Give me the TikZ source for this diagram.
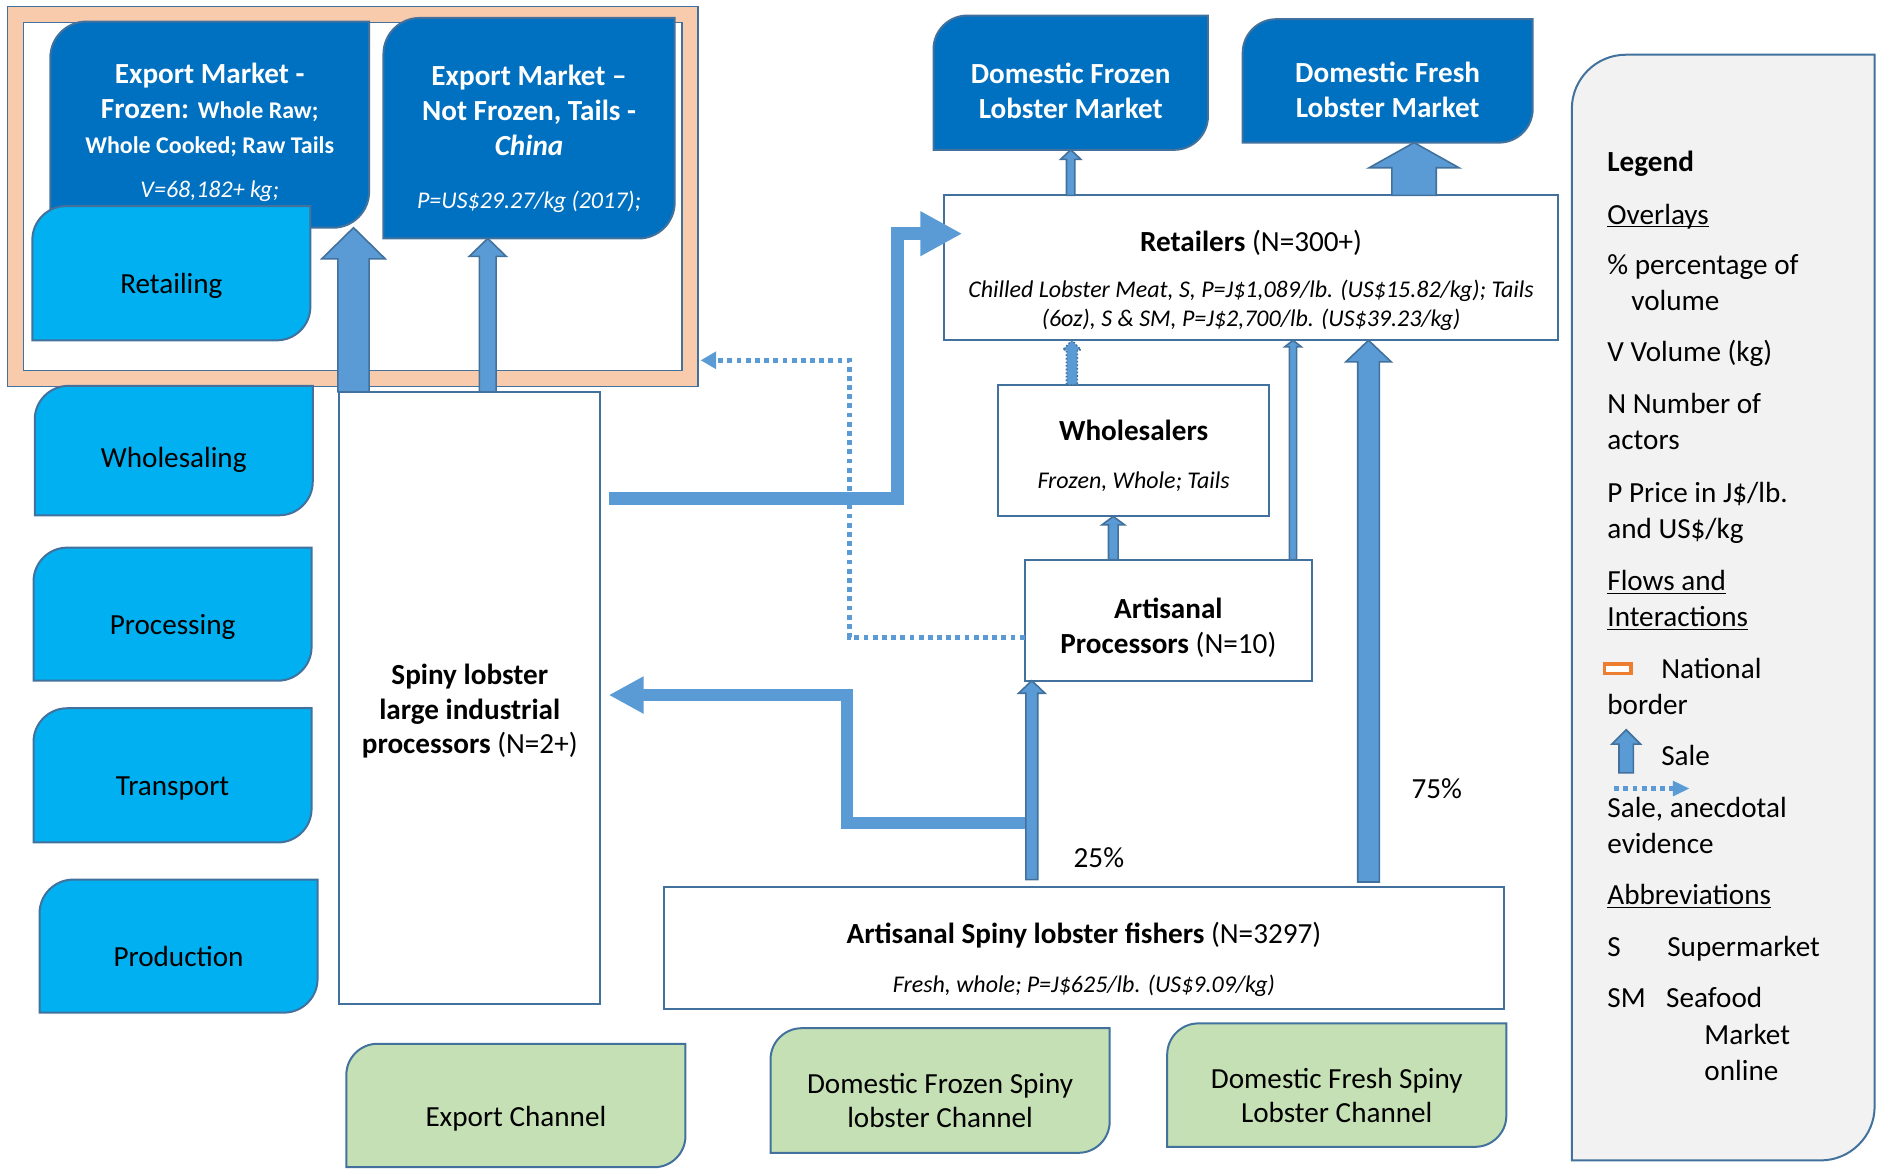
\documentclass[tikz,border=0pt]{standalone}
\usepackage{fontspec}
\setmainfont{Carlito}
\usepackage{xcolor}
\usepackage{tikz}
\usetikzlibrary{arrows.meta, calc, backgrounds}

\definecolor{marketblue}{HTML}{0070C0}
\definecolor{stageblue}{HTML}{00B0F0}
\definecolor{channelgreen}{HTML}{C5E0B4}
\definecolor{edgeblue}{HTML}{41719C}
\definecolor{flowblue}{HTML}{5B9BD5}
\definecolor{peach}{HTML}{F8CBAD}
\definecolor{legendgray}{HTML}{F2F2F2}
\definecolor{borderorange}{HTML}{ED7D31}

\newcommand{\basesz}{\fontsize{14.6}{17.5}\selectfont}
\newcommand{\smallsz}{\fontsize{12}{14.4}\selectfont}
\newcommand{\ulegend}[1]{\underline{\smash{#1}}}
\newcommand{\lift}[1][20pt]{\rule{0pt}{#1}}

% box with round top-left and bottom-right corners, drawn round a node
\newcommand{\diagshape}[3]{%
  \path[#1] ($(#2.north west)+(0,#3)$)
    .. controls ($(#2.north west)+(0,0.45*#3)$) and ($(#2.north west)+(0.45*#3,0)$) .. ($(#2.north west)+(#3,0)$)
    -- (#2.north east) -- ($(#2.south east)+(0,-#3)$)
    .. controls ($(#2.south east)+(0,-0.45*#3)$) and ($(#2.south east)+(-0.45*#3,0)$) .. ($(#2.south east)+(-#3,0)$)
    -- (#2.south west) -- cycle;}

% upward block arrow: from, to, half shaft, half head, head length
\newcommand{\blockup}[6][]{%
  \draw[blockarrow,#1] ($(#2)+(-#4,0)$) -- ($(#3)+(-#4,#6)$) -- ($(#3)+(-#5,#6)$) -- (#3)
    -- ($(#3)+(#5,#6)$) -- ($(#3)+(#4,#6)$) -- ($(#2)+(#4,0)$) -- cycle;}

\tikzset{
    base/.style={align=center, inner sep=0pt, outer sep=0pt, font=\basesz, text depth=0pt},
    market/.style={base, text=white},
    stage/.style={base, minimum width=139.2pt},
    channel/.style={base, minimum width=169.8pt},
    actor/.style={base, draw=edgeblue, line width=1pt, fill=white},
    natborder/.style={draw=edgeblue, line width=0.8pt, double=peach, double distance=7.2pt, inner sep=0pt, minimum width=337.8pt, minimum height=182.4pt},
    marketfill/.style={fill=marketblue, draw=edgeblue, line width=1pt},
    stagefill/.style={fill=stageblue, draw=edgeblue, line width=1pt},
    channelfill/.style={fill=channelgreen, draw=edgeblue, line width=1pt},
    legendfill/.style={fill=legendgray, draw=edgeblue, line width=1pt},
    blockarrow/.style={fill=flowblue, draw=edgeblue, line width=0.8pt, line join=miter},
    flowline/.style={draw=flowblue, line width=6.6pt, line join=miter},
    anecdote/.style={draw=flowblue, line width=2.2pt, dash pattern=on 2.4pt off 2.2pt, -{Triangle[width=8.4pt, length=7.8pt]}},
    legtext/.style={anchor=base west, inner sep=0pt, font=\basesz}
}

\begin{document}
\begin{tikzpicture}[x=0.6pt, y=-0.6pt]
    \useasboundingbox (0,0) rectangle (1568,975);

    % Markets
    \node (exp1) [market, minimum width=159.6pt, minimum height=103.2pt] at (175,104) {\lift[16pt]\textbf{Export Market -}\\ \textbf{Frozen: {\smallsz Whole Raw;}}\\ {\smallsz\bfseries Whole Cooked; Raw Tails}\\[4.2pt] {\smallsz\itshape V=68,182+ kg;}};
    \node (exp2) [market, minimum width=145.8pt, minimum height=110.4pt] at (441.5,107) {\lift[18.6pt]\textbf{Export Market –}\\ \textbf{Not Frozen, Tails -}\\ \textbf{\textit{China}}\\[9pt] {\smallsz\itshape P=US\$29.27/kg (2017);}};
    \node (domfrozen) [market, minimum width=137.4pt, minimum height=67.2pt] at (893.5,69) {\lift[18.6pt]\textbf{Domestic Frozen}\\ \textbf{Lobster Market}};
    \node (domfresh) [market, minimum width=145.2pt, minimum height=61.8pt] at (1158,67.5) {\lift[19pt]\textbf{Domestic Fresh}\\ \textbf{Lobster Market}};

    % Functions
    \node (retailing) [stage, minimum height=67.2pt] at (143,228) {\lift Retailing};
    \node (wholesaling) [stage, minimum height=64.8pt] at (145,376) {\lift[17.4pt]Wholesaling};
    \node (processing) [stage, minimum height=66.6pt] at (144,512.5) {\lift Processing};
    \node (transport) [stage, minimum height=67.2pt] at (144,647) {\lift Transport};
    \node (production) [stage, minimum height=66.6pt] at (149,789.5) {\lift Production};

    % Actors
    \node (procs) [actor, minimum width=130.8pt, minimum height=306.6pt] at (392,582.5) {\lift[21pt]\textbf{Spiny lobster}\\ \textbf{large industrial}\\ \textbf{processors} (N=2+)};
    \node (ret) [actor, minimum width=307.2pt, minimum height=72.6pt] at (1044,223.5) {\lift[21pt]\textbf{Retailers} (N=300+)\\[5.5pt] {\smallsz\itshape Chilled Lobster Meat, S, P=J\$1,089/lb. (US\$15.82/kg); Tails}\\[-3pt] {\smallsz\itshape (6oz), S \& SM, P=J\$2,700/lb. (US\$39.23/kg)}};
    \node (whole) [actor, minimum width=135.6pt, minimum height=66pt] at (946,376) {\lift[14.4pt]\textbf{Wholesalers}\\[6.5pt] {\smallsz\itshape Frozen, Whole; Tails}};
    \node (artproc) [actor, minimum width=144pt, minimum height=60.6pt] at (975,517.5) {\lift[15.6pt]\textbf{Artisanal}\\ \textbf{Processors} (N=10)};
    \node (fishers) [actor, minimum width=420.6pt, minimum height=61.2pt] at (904.5,791) {\lift[20.4pt]\textbf{Artisanal Spiny lobster fishers} (N=3297)\\[7pt] {\smallsz\itshape Fresh, whole; P=J\$625/lb. (US\$9.09/kg)}};

    % Channels
    \node (expch) [channel, minimum height=61.8pt] at (430.5,922.5) {\lift[21pt]Export Channel};
    \node (dfrozch) [channel, minimum height=62.4pt] at (784.5,910) {\lift Domestic Frozen Spiny\\ lobster Channel};
    \node (dfreshch) [channel, minimum height=61.8pt] at (1115.5,905.5) {\lift[20.4pt]Domestic Fresh Spiny\\ Lobster Channel};

    % Legend
    \node (legend) [inner sep=0pt, minimum width=151.2pt, minimum height=553.2pt] at (1438,507) {};
    \node (lgtitle) [legtext] at (1341,143) {\textbf{Legend}};
    \node (lgover) [legtext] at (1341,187) {\ulegend{Overlays}};
    \node (lgpct) [legtext] at (1341,229) {\% percentage of};
    \node (lgpct2) [legtext] at (1361,259) {volume};
    \node (lgvol) [legtext] at (1341,302) {V Volume (kg)};
    \node (lgnum) [legtext] at (1341,345) {N Number of};
    \node (lgnum2) [legtext] at (1341,375) {actors};
    \node (lgprice) [legtext] at (1341,419) {P Price in J\$/lb.};
    \node (lgprice2) [legtext] at (1341,449) {and US\$/kg};
    \node (lgflow) [legtext] at (1341,493) {\ulegend{Flows and}};
    \node (lgflow2) [legtext] at (1341,523) {\ulegend{Interactions}};
    \node (lgborder) [draw=borderorange, line width=1.8pt, fill=white, minimum width=13.2pt, minimum height=4.8pt, inner sep=0pt] at (1350,558) {};
    \node (lgnat) [legtext] at (1386,566) {National};
    \node (lgnat2) [legtext] at (1341,596) {border};
    \node (lgsale) [legtext] at (1386,639) {Sale};
    \node (lganec) [legtext] at (1341,682) {Sale, anecdotal};
    \node (lganec2) [legtext] at (1341,712) {evidence};
    \node (lgabbr) [legtext] at (1341,755) {\ulegend{Abbreviations}};
    \node (lgs1) [legtext] at (1341,798) {S};
    \node (lgs2) [legtext] at (1391,798) {Supermarket};
    \node (lgsm1) [legtext] at (1341,841) {SM};
    \node (lgsm2) [legtext] at (1390,841) {Seafood};
    \node (lgsm3) [legtext] at (1422,872) {Market};
    \node (lgsm4) [legtext] at (1422,902) {online};

    % Shares
    \node (p25) [font=\basesz] at (917,716) {25\%};
    \node (p75) [font=\basesz] at (1199,658) {75\%};

    % Filled shapes behind the nodes
    \begin{scope}[on background layer]
        \node (border) [natborder] at (294.5,164) {};
        \diagshape{marketfill}{exp1}{30}
        \diagshape{marketfill}{exp2}{30}
        \diagshape{marketfill}{domfrozen}{28}
        \diagshape{marketfill}{domfresh}{28}
        \foreach \n in {retailing, wholesaling, processing, transport, production}
            {\diagshape{stagefill}{\n}{28}}
        \foreach \n in {expch, dfrozch, dfreshch}
            {\diagshape{channelfill}{\n}{26}}
        \diagshape{legendfill}{legend}{45}
    \end{scope}

    % Bends and arrow feet
    \coordinate (k1) at (749,416);
    \coordinate (k2) at (707,687);
    \coordinate (k3) at (709,532);
    \coordinate (k4) at ($(border.south east)+(8,-16)$);
    \coordinate (a1) at ($(procs.north west)+(12,0)$);
    \coordinate (a2) at ($(procs.north west)+(124,0)$);
    \coordinate (a3) at (ret.north -| domfrozen.south);
    \coordinate (a4) at ($(ret.north west)+(392,0)$);
    \coordinate (a5) at ($(artproc.north west)+(74,0)$);
    \coordinate (a6) at ($(artproc.north west)+(224,0)$);
    \coordinate (a7) at ($(whole.north west)+(61.5,0)$);
    \coordinate (a8) at ($(fishers.north west)+(307,-6)$);
    \coordinate (a9) at ($(fishers.north west)+(588,-4)$);

    % Thick sale flows
    \draw [flowline, -{Triangle[width=21pt, length=21pt]}] ($(procs.east |- k1)+(7,0)$) -- (k1) |- ($(ret.west)+(15,-28.5)$);
    \draw [flowline, line width=6pt, -{Triangle[width=17.4pt, length=17.4pt]}] (a8 |- k2) -- (k2) |- ($(procs.east)+(7,-2.5)$);
    \draw [anecdote] (artproc.west |- k3) -- (k3) |- (k4);

    % Block arrows
    \blockup{a1}{a1 |- exp1.south}{13}{26.5}{26}
    \blockup{a2}{a2 |- exp2.south}{7}{15.5}{15}
    \blockup{a3}{domfrozen.south}{3.5}{8.5}{8}
    \blockup{a4}{a4 |- domfresh.south}{18.5}{37.5}{21}
    \blockup{a5}{a5 |- whole.south}{4}{9.5}{7}
    \blockup{a6}{a6 |- ret.south}{3}{7}{5.5}
    \blockup[densely dotted]{a7}{a7 |- ret.south}{4.5}{7.5}{8}
    \blockup{a8}{a8 |- artproc.south}{5}{11}{10.5}
    \blockup{a9}{a9 |- ret.south}{9}{19}{18}

    % Legend symbols
    \coordinate (lgfoot) at (1357,645);
    \coordinate (lgtip) at (1357,609);
    \blockup{lgfoot}{lgtip}{6}{12}{12}
    \coordinate (lgd1) at (1347,658);
    \coordinate (lgd2) at (1410,658);
    \draw [anecdote, -{Triangle[width=7.2pt, length=8.4pt]}] (lgd1) -- (lgd2);
\end{tikzpicture}
\end{document}
